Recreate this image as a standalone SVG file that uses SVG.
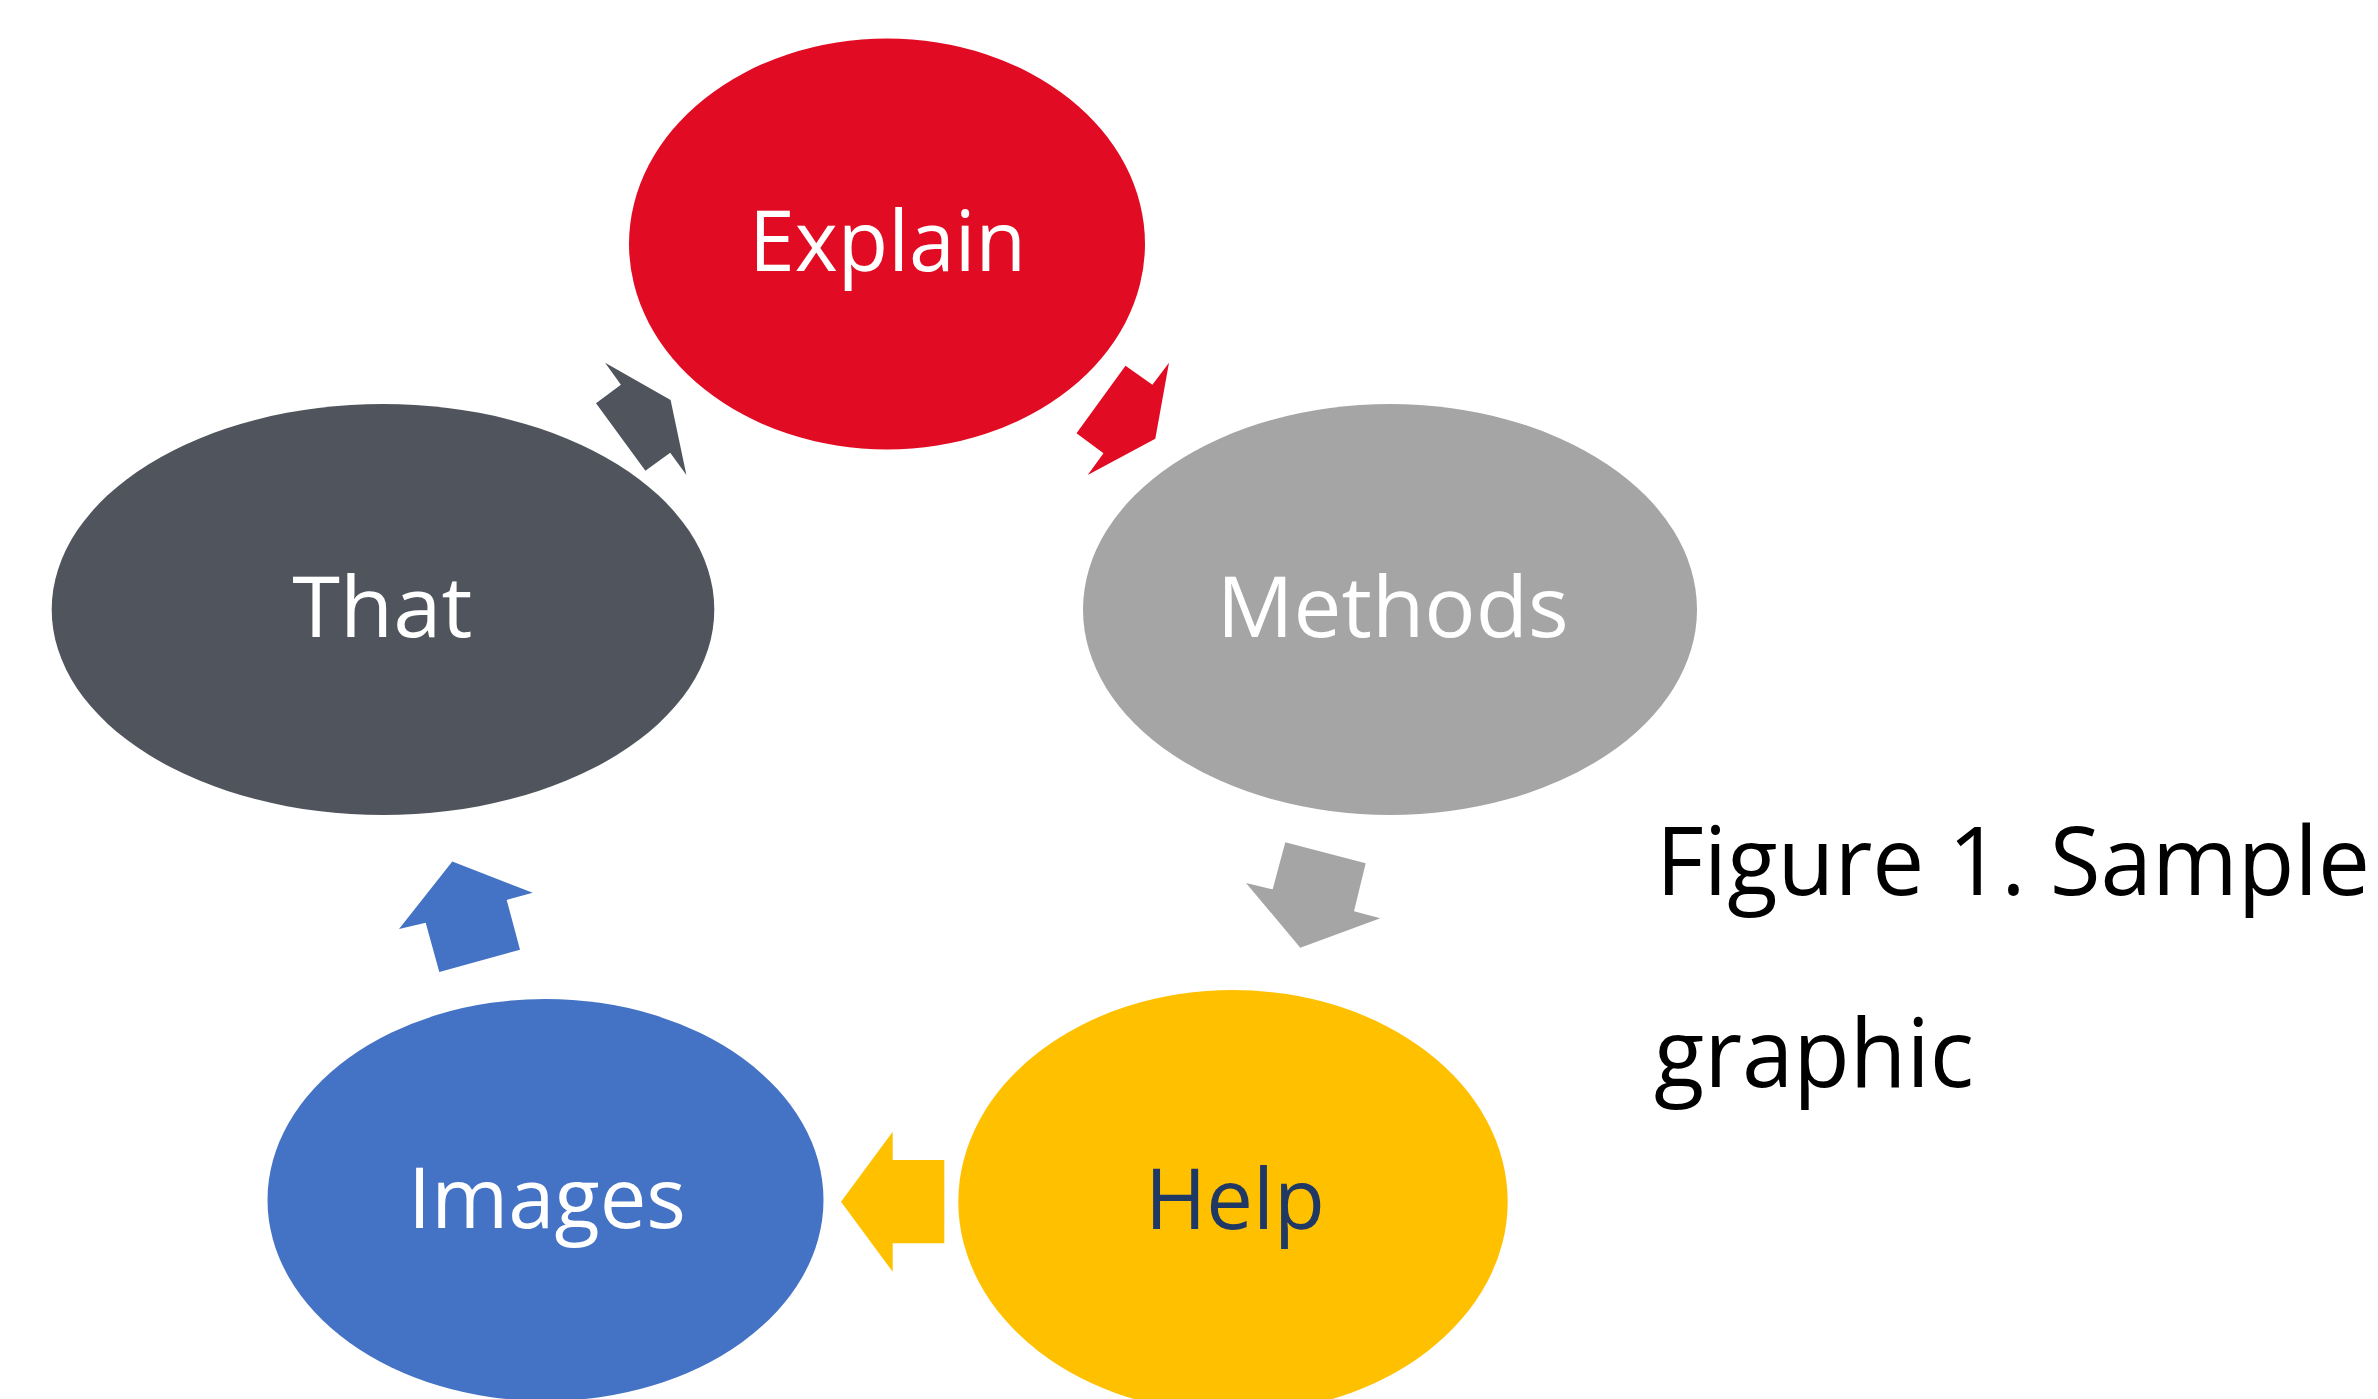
<svg xmlns="http://www.w3.org/2000/svg" width="2378" height="1399" viewBox="0 0 2378 1399">
<style>
  .lbl { font-family: "Open Sans", "Noto Sans", "DejaVu Sans", sans-serif; font-size: 84px; text-anchor: middle; }
  .white { fill: #FFFFFF; }
  .navy { fill: #203864; }
  .cap { font-family: "Open Sans", "Noto Sans", "DejaVu Sans", sans-serif; font-size: 95px; fill: #000000; }
  .red { fill: #E10C23; }
  .dark { fill: #50555D; }
  .grey { fill: #A5A5A5; }
  .yellow { fill: #FFC000; }
  .blue { fill: #4472C4; }
</style>
<rect x="0" y="0" width="2378" height="1399" fill="#FFFFFF"/>
<g id="connectors">
  <polygon id="arrow-explain-methods" class="red" points="1125.5,365.7 1152.4,384.7 1169,362.7 1155.3,438.7 1087.7,475 1103.5,453.3 1076.5,433.3"/>
  <polygon id="arrow-methods-help" class="grey" points="1285.3,842.3 1365.7,863.3 1354,911.3 1380.3,918.3 1300.3,947.7 1246,883 1272.7,889.3"/>
  <polygon id="arrow-help-images" class="yellow" points="841,1201.7 892.7,1131.7 892.7,1160 944.3,1160 944.3,1243.3 892.7,1243.3 892.7,1271.7"/>
  <polygon id="arrow-images-that" class="blue" points="452.3,861.4 532.7,892.8 506.7,899.9 520,949.8 439.3,971.9 425.7,922.7 399,929.1"/>
  <polygon id="arrow-that-explain" class="dark" points="605.1,362.7 670.6,400 686.4,475 670.2,452.7 645.4,470.7 596,403.3 620.9,384.7"/>
</g>
<g id="node-explain">
  <ellipse class="red" cx="887" cy="244" rx="258" ry="205.5"/>
  <text class="lbl white" x="887.5" y="270.7" textLength="277" lengthAdjust="spacingAndGlyphs">Explain</text>
</g>
<g id="node-methods">
  <ellipse class="grey" cx="1390" cy="609.5" rx="307" ry="205.5"/>
  <text class="lbl white" x="1392.7" y="636.7" textLength="352" lengthAdjust="spacingAndGlyphs">Methods</text>
</g>
<g id="node-help">
  <ellipse class="yellow" cx="1233" cy="1201.7" rx="274.7" ry="211.7"/>
  <text class="lbl navy" x="1235" y="1229" textLength="180" lengthAdjust="spacingAndGlyphs">Help</text>
</g>
<g id="node-images">
  <ellipse class="blue" cx="545.5" cy="1200" rx="278" ry="201"/>
  <text class="lbl white" x="547" y="1228.3" textLength="278" lengthAdjust="spacingAndGlyphs">Images</text>
</g>
<g id="node-that">
  <ellipse class="dark" cx="383" cy="609.5" rx="331.3" ry="205.5"/>
  <text class="lbl white" x="382.3" y="636.7" textLength="180" lengthAdjust="spacingAndGlyphs">That</text>
</g>
<g id="caption">
  <text class="cap" x="1656" y="895" textLength="714" lengthAdjust="spacingAndGlyphs">Figure 1. Sample</text>
  <text class="cap" x="1654" y="1086.7" textLength="320" lengthAdjust="spacingAndGlyphs">graphic</text>
</g>
</svg>
